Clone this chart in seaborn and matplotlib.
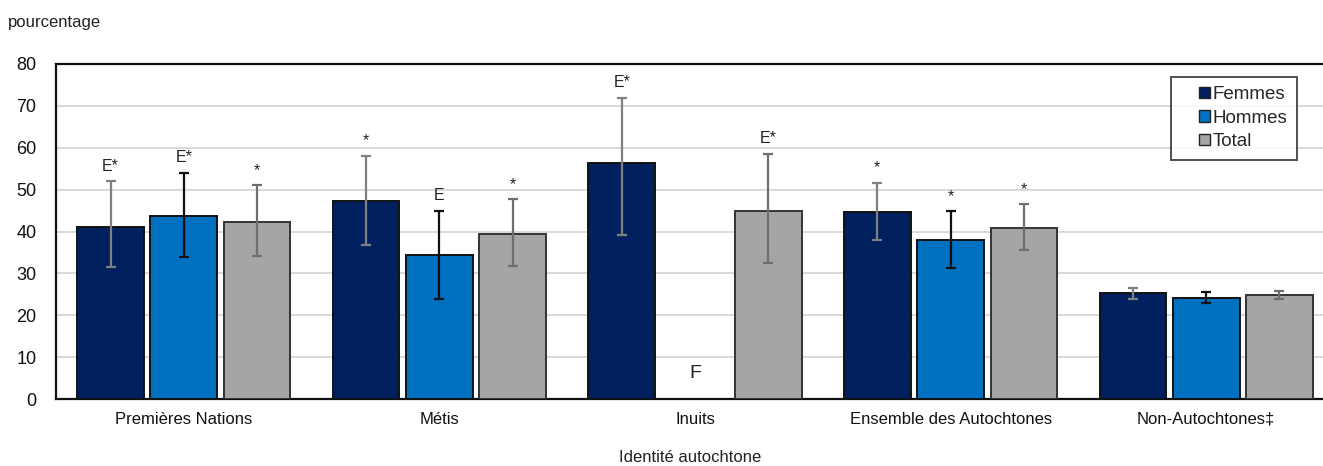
import numpy as np
import pandas as pd
import matplotlib
matplotlib.use("Agg")
import matplotlib.pyplot as plt
import seaborn as sns
from matplotlib.patches import Patch, Rectangle
from matplotlib.legend_handler import HandlerPatch

categories = ["Premières Nations", "Métis", "Inuits", "Ensemble des Autochtones", "Non-Autochtones‡"]
series = ["Femmes", "Hommes", "Total"]
femmes = [41.1, 47.3, 56.3, 44.7, 25.3]
hommes = [43.6, 34.3, np.nan, 37.9, 24.2]
total = [42.3, 39.4, 45.0, 40.9, 24.8]
femmes_lo = [31.5, 36.7, 39.2, 38.0, 24.0]
femmes_hi = [52.0, 58.0, 72.0, 51.6, 26.5]
hommes_lo = [34.0, 23.8, np.nan, 31.2, 23.0]
hommes_hi = [54.0, 45.0, np.nan, 44.8, 25.5]
total_lo = [34.2, 31.8, 32.4, 35.6, 24.0]
total_hi = [51.0, 47.7, 58.5, 46.5, 25.7]
femmes_flag = ["E*", "*", "E*", "*", ""]
hommes_flag = ["E*", "E", "F", "*", ""]
total_flag = ["*", "*", "E*", "*", ""]

sns.set_theme(style="white")
plt.rcParams['font.family'] = ['Liberation Sans', 'DejaVu Sans']

vals = {"Femmes": femmes, "Hommes": hommes, "Total": total}
los = {"Femmes": femmes_lo, "Hommes": hommes_lo, "Total": total_lo}
his = {"Femmes": femmes_hi, "Hommes": hommes_hi, "Total": total_hi}
flags = {"Femmes": femmes_flag, "Hommes": hommes_flag, "Total": total_flag}
rows = []
for s in series:
    for i, c in enumerate(categories):
        rows.append({"cat": c, "serie": s, "val": vals[s][i]})
df = pd.DataFrame(rows)

colors = {"Femmes": "#002060", "Hommes": "#0070C0", "Total": "#A5A5A5"}
edgecols = {"Femmes": "#111111", "Hommes": "#111111", "Total": "#333333"}
errcols = {"Femmes": "#808080", "Hommes": "#111111", "Total": "#6E6E6E"}

fig = plt.figure(figsize=(13.23, 4.66), dpi=100)
ax = fig.add_axes([56/1323, 1-399/466, 1278/1323, 335/466])

sns.barplot(data=df, x="cat", y="val", hue="serie", order=categories, hue_order=series,
            palette=colors, saturation=1, width=0.86, gap=0.09, ax=ax, legend=False,
            errorbar=None, edgecolor="#111111", linewidth=1.4, zorder=3)

n = len(series)
slot = 0.86 / n
for j, s in enumerate(series):
    for i in range(len(categories)):
        x = i - 0.43 + slot * (j + 0.5)
        v = vals[s][i]
        f = flags[s][i]
        if not np.isnan(v):
            lo, hi = los[s][i], his[s][i]
            ax.errorbar(x, v, yerr=[[v - lo], [hi - v]], fmt="none", ecolor=errcols[s],
                        elinewidth=1.6, capsize=3.5, capthick=1.6, zorder=4)
            if f:
                ax.text(x, hi + 1.8, f, ha="center", va="bottom", fontsize=11.5, color="#222222")
        elif f:
            ax.text(x, 6, f, ha="center", va="center", fontsize=14, color="#222222")

for cont, s in zip(ax.containers, series):
    for b in cont:
        b.set_edgecolor(edgecols[s])

ax.set_xlim(-0.5, 4.5)
ax.set_ylim(0, 80)
ax.set_yticks(range(0, 81, 10))
ax.yaxis.grid(True, color="#D9D9D9", linewidth=1.4, zorder=0)
ax.set_axisbelow(True)
ax.tick_params(axis="both", length=0, labelsize=12, colors="#111111")
ax.tick_params(axis="x", pad=9)
ax.tick_params(axis="y", pad=14, labelsize=13)
ax.set_xlabel("")
ax.set_ylabel("")
for side in ["left", "bottom", "top"]:
    ax.spines[side].set_color("#111111")
    ax.spines[side].set_linewidth(1.6)
ax.spines["right"].set_visible(False)


def small_square(legend, orig_handle, xdescent, ydescent, width, height, fontsize):
    side = height
    return Rectangle((-xdescent + width - side, -ydescent), side, side)


handles = [Patch(facecolor=colors[s], edgecolor="#222222", linewidth=1.0) for s in series]
leg = ax.legend(handles, series, loc="upper right", bbox_to_anchor=(0.971, 0.962),
                frameon=True, fancybox=False, edgecolor="#222222", fontsize=13.5,
                handlelength=1.6, handleheight=0.55, handletextpad=0.15, labelspacing=0.35,
                borderpad=0.5, borderaxespad=0,
                handler_map={Patch: HandlerPatch(patch_func=small_square)})
leg.get_frame().set_linewidth(1.4)
leg.set_zorder(10)

fig.text(8/1323, 1-22/466, "pourcentage", ha="left", va="center", fontsize=12, color="#222222")
fig.text(690/1323, 1-457/466, "Identité autochtone", ha="center", va="center",
         fontsize=12, color="#222222")

fig.savefig("out.png", dpi=100)
